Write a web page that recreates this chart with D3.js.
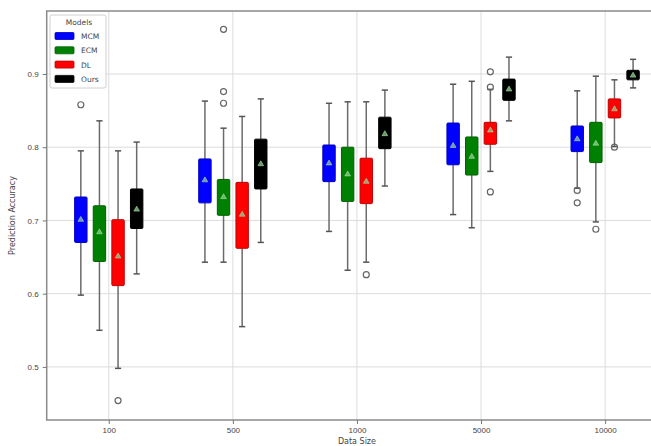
<!DOCTYPE html>
<html>
<head>
<meta charset="utf-8">
<script src="https://cdn.jsdelivr.net/npm/d3@7"></script>
<style>
  html, body { margin: 0; padding: 0; background: #fff; }
  svg { display: block; font-family: "DejaVu Sans", sans-serif; }
</style>
</head>
<body>
<svg id="chart" width="651" height="446"></svg>
<script>
// Categories and series
const dataSizes = ["100", "500", "1000", "5000", "10000"];
const models = ["MCM", "ECM", "DL", "Ours"];
const modelColors = ["#0000ff", "#008000", "#ff0000", "#000000"];
const yTicks = [0.5, 0.6, 0.7, 0.8, 0.9];

// Box statistics per model (rows) and data size (columns)
const whiskerHigh = [
  [0.795, 0.863, 0.860, 0.886, 0.877],
  [0.836, 0.826, 0.862, 0.890, 0.897],
  [0.795, 0.842, 0.862, 0.879, 0.892],
  [0.807, 0.866, 0.878, 0.923, 0.920]
];
const quartile3 = [
  [0.732, 0.784, 0.803, 0.833, 0.829],
  [0.720, 0.756, 0.800, 0.814, 0.834],
  [0.701, 0.752, 0.785, 0.834, 0.866],
  [0.743, 0.811, 0.841, 0.893, 0.905]
];
const quartile1 = [
  [0.670, 0.724, 0.753, 0.776, 0.794],
  [0.644, 0.707, 0.726, 0.762, 0.779],
  [0.611, 0.662, 0.723, 0.804, 0.840],
  [0.689, 0.743, 0.798, 0.864, 0.892]
];
const whiskerLow = [
  [0.598, 0.643, 0.685, 0.708, 0.744],
  [0.550, 0.643, 0.632, 0.690, 0.698],
  [0.498, 0.555, 0.643, 0.767, 0.801],
  [0.627, 0.670, 0.747, 0.836, 0.881]
];
const means = [
  [0.701, 0.755, 0.778, 0.802, 0.811],
  [0.684, 0.732, 0.763, 0.787, 0.805],
  [0.651, 0.708, 0.753, 0.823, 0.852],
  [0.715, 0.777, 0.818, 0.879, 0.898]
];
const outliers = [
  [[0.858], [], [], [], [0.741, 0.724]],
  [[], [0.961, 0.876, 0.860], [], [], [0.688]],
  [[0.454], [], [0.626], [0.903, 0.882, 0.739], [0.800]],
  [[], [], [], [], []]
];

const svg = d3.select("#chart");
const plot = { left: 46.7, top: 11, bottom: 420, right: 667.2 };

const x = d3.scaleLinear().domain([0.5, dataSizes.length + 0.5]).range([plot.left, plot.right]);
const y = d3.scaleLinear().domain([0.4275, 0.986]).range([plot.bottom, plot.top]);

const offset = 0.15;   // spacing between model boxes within a group
const boxW = 0.1;      // box width in position units

// Grid lines
const grid = svg.append("g");
grid.selectAll("line.gy").data(yTicks).join("line")
  .attr("x1", plot.left).attr("x2", plot.right)
  .attr("y1", d => y(d)).attr("y2", d => y(d))
  .attr("stroke", "#dcdcdc").attr("stroke-width", 1);
grid.selectAll("line.gx").data(dataSizes).join("line")
  .attr("x1", (d, i) => x(i + 1)).attr("x2", (d, i) => x(i + 1))
  .attr("y1", plot.top).attr("y2", plot.bottom)
  .attr("stroke", "#dcdcdc").attr("stroke-width", 1);

// Boxes
const boxes = [];
models.forEach((m, mi) => {
  dataSizes.forEach((s, si) => {
    boxes.push({
      mi, si,
      pos: si + 1 + (mi - 1.5) * offset,
      lo: whiskerLow[mi][si], q1: quartile1[mi][si], q3: quartile3[mi][si],
      hi: whiskerHigh[mi][si], mean: means[mi][si], out: outliers[mi][si]
    });
  });
});

const capHalf = (x(boxW) - x(0)) / 4;
const halfBox = (x(boxW) - x(0)) / 2;

const g = svg.append("g");
const bg = g.selectAll("g.box").data(boxes).join("g");

// Whiskers
bg.append("line")
  .attr("x1", d => x(d.pos)).attr("x2", d => x(d.pos))
  .attr("y1", d => y(d.hi)).attr("y2", d => y(d.q3))
  .attr("stroke", "#6b6b6b").attr("stroke-width", 1.5);
bg.append("line")
  .attr("x1", d => x(d.pos)).attr("x2", d => x(d.pos))
  .attr("y1", d => y(d.q1)).attr("y2", d => y(d.lo))
  .attr("stroke", "#6b6b6b").attr("stroke-width", 1.5);
// Caps
bg.append("line")
  .attr("x1", d => x(d.pos) - capHalf).attr("x2", d => x(d.pos) + capHalf)
  .attr("y1", d => y(d.hi)).attr("y2", d => y(d.hi))
  .attr("stroke", "#555").attr("stroke-width", 1.5);
bg.append("line")
  .attr("x1", d => x(d.pos) - capHalf).attr("x2", d => x(d.pos) + capHalf)
  .attr("y1", d => y(d.lo)).attr("y2", d => y(d.lo))
  .attr("stroke", "#555").attr("stroke-width", 1.5);
// Box body
bg.append("rect")
  .attr("x", d => x(d.pos) - halfBox)
  .attr("width", halfBox * 2)
  .attr("y", d => y(d.q3))
  .attr("height", d => y(d.q1) - y(d.q3))
  .attr("rx", 1)
  .attr("fill", d => modelColors[d.mi])
  .attr("stroke", d => d3.color(modelColors[d.mi]).darker(0.8))
  .attr("stroke-width", 1);
// Mean markers
const tri = d3.symbol().type(d3.symbolTriangle).size(14);
bg.append("path")
  .attr("d", tri)
  .attr("transform", d => `translate(${x(d.pos)},${y(d.mean)})`)
  .attr("fill", "#8fcf8f").attr("fill-opacity", 0.75)
  .attr("stroke", "#a8dca8").attr("stroke-width", 0.6);
// Outliers
bg.each(function (d) {
  d3.select(this).selectAll("circle").data(d.out).join("circle")
    .attr("cx", x(d.pos)).attr("cy", v => y(v)).attr("r", 3)
    .attr("fill", "none").attr("stroke", "#666").attr("stroke-width", 1.2);
});

// Spines
svg.append("rect")
  .attr("x", plot.left).attr("y", plot.top)
  .attr("width", plot.right - plot.left).attr("height", plot.bottom - plot.top)
  .attr("fill", "none").attr("stroke", "#8a8a8a").attr("stroke-width", 1.5);

// Axes
const yAxis = d3.axisLeft(y).tickValues(yTicks).tickFormat(d3.format(".1f")).tickSize(4).tickPadding(4);
const yg = svg.append("g").attr("transform", `translate(${plot.left},0)`).call(yAxis);
yg.select(".domain").remove();
yg.selectAll("line").attr("stroke", "#777");
yg.selectAll("text").attr("font-size", 8).attr("fill", "#444");

const xAxis = d3.axisBottom(x).tickValues(d3.range(1, dataSizes.length + 1))
  .tickFormat((d, i) => dataSizes[i]).tickSize(4).tickPadding(3);
const xg = svg.append("g").attr("transform", `translate(0,${plot.bottom})`).call(xAxis);
xg.select(".domain").remove();
xg.selectAll("line").attr("stroke", "#777");
xg.selectAll("text").attr("font-size", 8).attr("fill", "#444");

// Axis titles
svg.append("text")
  .attr("x", (plot.left + plot.right) / 2).attr("y", 444)
  .attr("text-anchor", "middle").attr("font-size", 8).attr("fill", "#444")
  .text("Data Size");
svg.append("text")
  .attr("transform", `translate(15,${(plot.top + plot.bottom) / 2}) rotate(-90)`)
  .attr("text-anchor", "middle").attr("font-size", 8).attr("fill", "#444")
  .text("Prediction Accuracy");

// Legend
const lg = svg.append("g").attr("transform", "translate(50,15)");
lg.append("rect")
  .attr("width", 56).attr("height", 73).attr("rx", 2)
  .attr("fill", "#fff").attr("fill-opacity", 0.85)
  .attr("stroke", "#d0d0d0").attr("stroke-width", 1);
lg.append("text")
  .attr("x", 29).attr("y", 10).attr("text-anchor", "middle")
  .attr("font-size", 7.5).attr("fill", "#444").text("Models");
const items = lg.selectAll("g.item").data(models).join("g")
  .attr("transform", (d, i) => `translate(0,${21 + i * 14.3})`);
items.append("rect")
  .attr("x", 5).attr("y", -3.5).attr("width", 19).attr("height", 7).attr("rx", 1)
  .attr("fill", (d, i) => modelColors[i])
  .attr("stroke", (d, i) => d3.color(modelColors[i]).darker(0.8)).attr("stroke-width", 0.8);
items.append("text")
  .attr("x", 31).attr("y", 3).attr("font-size", 7.5).attr("fill", "#444")
  .text(d => d);
</script>
</body>
</html>
